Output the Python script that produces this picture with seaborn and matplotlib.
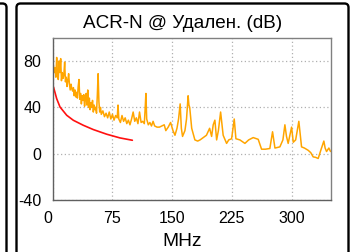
import matplotlib
matplotlib.use("Agg")
import matplotlib.pyplot as plt
import seaborn as sns
import pandas as pd
from matplotlib.patches import FancyBboxPatch

# ---- data ----
freq_mhz = [1, 2, 3, 4, 5, 6, 7, 8, 9, 10, 11, 12, 13, 14, 15, 16, 17, 18, 19, 20,
            21, 22, 23, 24, 25, 26, 27, 28, 29, 30, 31, 32, 33, 34, 35, 36, 37, 38, 39, 40,
            41, 42, 43, 44, 45, 46, 47, 48, 49, 50, 51, 52, 53, 54, 55, 56, 57, 58, 59, 60,
            61, 63, 65, 67, 69, 71, 73, 75, 77, 79, 81, 82, 83, 85, 87, 89, 91, 93, 95, 97,
            99, 101, 103, 105, 107, 109, 111, 113, 115, 116, 117, 118, 120, 122, 124, 126,
            128, 131, 134, 137, 140, 142, 145, 148, 151, 153.5, 156, 158, 160, 161.5, 163,
            166, 168, 170, 171, 172, 174.5, 178.5, 182, 185, 189, 193, 197, 199.5, 201.5,
            203.6, 205.8, 208, 210.8, 214, 218.3, 221, 224.6, 227.9, 230, 235, 241.3, 246,
            251.7, 258, 262.2, 267, 272.6, 276, 279, 285.2, 289, 291.5, 293.5, 295.6, 299.9,
            302, 305, 309, 312.4, 316, 320.8, 324, 327, 330, 333.3, 337, 340.4, 342, 343.8,
            346.7, 348.8]
acrn_db = [76, 70, 74, 66, 83, 68, 64, 80, 70, 82, 63, 70, 65, 68, 79, 62, 66, 58, 63, 69,
           60, 55, 60, 56, 54, 57, 50, 55, 49, 53, 48, 58, 64, 47, 52, 43, 50, 46, 51, 41,
           47, 52, 42, 55, 40, 48, 38, 44, 40, 46, 36, 42, 38, 40, 35, 50, 69, 45, 36, 40,
           34, 37, 32, 35, 31, 36, 30, 34, 29, 33, 31, 42, 30, 27, 33, 28, 31, 26, 29, 25,
           30, 36, 28, 31, 26, 36, 27, 28, 26, 38, 52, 30, 25, 27, 24, 28,
           24, 23, 23, 24, 25, 20, 23, 27, 20, 16, 22, 30, 43, 22, 15,
           20, 30, 50, 42, 40, 22, 12, 11, 12, 14, 16, 22, 15, 25,
           29, 12, 20, 36, 16, 9, 12, 13, 30, 13, 12, 9, 12,
           14, 12.5, 4, 4, 4.6, 19, 5, 6, 12, 25, 15, 9, 23,
           10, 12, 28, 6, 5, 3, 1, -2.6, -3, -4, 4, 11, 5, 2,
           5, 2]

limit_mhz = [1, 5, 9.2, 17.6, 25.9, 38.4, 51, 67.8, 84.5, 100]
limit_db = [57.5, 47.5, 40.3, 33.2, 28.9, 24.6, 20.9, 16.9, 13.7, 11.7]

x_ticks = [0, 75, 150, 225, 300]
y_ticks = [-40, 0, 40, 80]
title_text = "ACR-N @ Удален. (dB)"
x_label = "MHz"

meas = pd.DataFrame({"f": freq_mhz, "v": acrn_db})
lim = pd.DataFrame({"f": limit_mhz, "v": limit_db})

sns.set_theme(style="white")
plt.rcParams["font.family"] = ["Liberation Sans", "DejaVu Sans"]

W, H = 351, 252
fig = plt.figure(figsize=(W / 100, H / 100), dpi=100)
ax = fig.add_axes([52.7 / W, 1 - 200.3 / H, (330.7 - 52.7) / W, (200.3 - 37.7) / H])

sns.lineplot(data=meas, x="f", y="v", ax=ax, color="#FFA500", linewidth=1.1,
             estimator=None, sort=False)
sns.lineplot(data=lim, x="f", y="v", ax=ax, color="#FF1010", linewidth=1.2,
             estimator=None)

ax.set_xlim(0, 349)
ax.set_ylim(-40, 100)
ax.set_xticks(x_ticks)
ax.set_yticks(y_ticks)
ax.set_xticklabels([str(t) for t in x_ticks])
ax.set_yticklabels([str(t) for t in y_ticks])
ax.tick_params(axis="both", length=0, labelsize=11.5, colors="black", pad=8)
ax.get_xticklabels()[0].set_horizontalalignment("right")
ax.grid(True, color="#b0b0b0", linestyle=(0, (1, 2)), linewidth=0.9)
for s in ax.spines.values():
    s.set_color("#808080")
    s.set_linewidth(1.0)
ax.spines["left"].set_color("#606060")
ax.spines["bottom"].set_color("#606060")
ax.set_xlabel("")
ax.set_ylabel("")

fig.text(182.5 / W, 1 - 27.5 / H, title_text, ha="center", va="baseline", fontsize=13.6, color="black")
fig.text(182.5 / W, 1 - 245.5 / H, x_label, ha="center", va="baseline", fontsize=13.8, color="black")

# panel frames
t = fig.dpi_scale_trans
fig.patches.append(FancyBboxPatch((0.165, -0.3), 3.32, 2.785,
                                  boxstyle="round,pad=0,rounding_size=0.04",
                                  fill=False, edgecolor="black", linewidth=1.7,
                                  transform=t, figure=fig))
fig.patches.append(FancyBboxPatch((-3.5, -0.3), 3.565, 2.785,
                                  boxstyle="round,pad=0,rounding_size=0.04",
                                  fill=False, edgecolor="black", linewidth=1.7,
                                  transform=t, figure=fig))

fig.savefig("out.png", dpi=100)
